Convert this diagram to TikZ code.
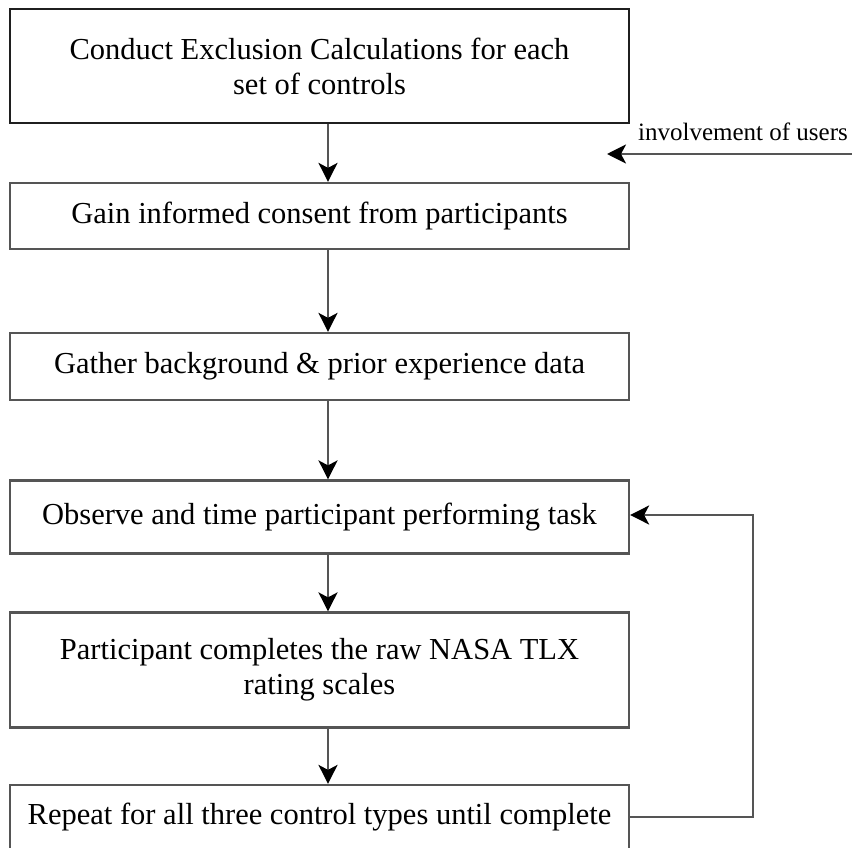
\documentclass[tikz,border=0pt]{standalone}
\usepackage{fontspec}
\setmainfont{Liberation Serif}
\usetikzlibrary{arrows.meta}
\definecolor{edgegray}{HTML}{555555}
\tikzset{
  stepbox/.style={draw=edgegray, line width=2.2pt, minimum width=619pt, inner sep=0pt,
    align=center, font=\fontsize{30.5}{35}\selectfont},
  firstbox/.style={stepbox, draw=black!88, line width=2.6pt},
  flow/.style={draw=edgegray, line width=2.2pt,
    -{Stealth[length=19pt,width=19pt,inset=5pt,color=black]}}
}
\begin{document}
\begin{tikzpicture}[x=1pt,y=-1pt]
  \useasboundingbox (0,0) rectangle (852,848);
  \clip (0,0) rectangle (852,848);
  % process steps
  \node[firstbox, minimum height=114pt] (b1) at (319.5,66)
    {Conduct Exclusion Calculations for each\\set of controls};
  \node[stepbox, minimum height=66pt] (b2) at (319.5,216)
    {Gain informed consent from participants};
  \node[stepbox, minimum height=67pt] (b3) at (319.5,366.5)
    {Gather background \& prior experience data};
  \node[stepbox, minimum height=73pt] (b4) at (319.5,517)
    {Observe and time participant performing task};
  \node[stepbox, minimum height=115pt] (b5) at (319.5,670)
    {Participant completes the raw NASA TLX\\rating scales};
  \node[stepbox, minimum height=64pt] (b6) at (319.5,817)
    {Repeat for all three control types until complete};
  % downward connectors, slightly right of the box centres
  \coordinate (ax) at (328,0);
  \draw[flow] (b1.south -| ax) -- (b2.north -| ax);
  \draw[flow] (b2.south -| ax) -- (b3.north -| ax);
  \draw[flow] (b3.south -| ax) -- (b4.north -| ax);
  \draw[flow] (b4.south -| ax) -- (b5.north -| ax);
  \draw[flow] (b5.south -| ax) -- (b6.north -| ax);
  % loop back for the next control type
  \coordinate (loopx) at (753,0);
  \draw[flow] (b6.east) -- (b6.east -| loopx) -- ([yshift=2pt]b4.east -| loopx) -- ([yshift=2pt]b4.east);
  % user involvement
  \coordinate (uin) at (853,154);
  \coordinate (uout) at (607,154);
  \draw[flow] (uin) -- (uout);
  \node[anchor=base east, inner sep=0pt, font=\fontsize{25}{30}\selectfont] (ulabel) at (848,141)
    {involvement of users};
\end{tikzpicture}
\end{document}
